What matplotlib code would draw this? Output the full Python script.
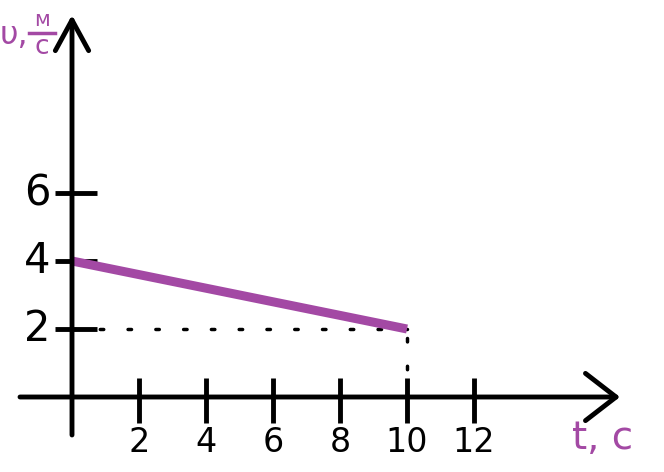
import matplotlib
matplotlib.use("Agg")
import matplotlib.pyplot as plt
from matplotlib.lines import Line2D

# data
t_line = [0, 10]
v_line = [4, 2]
x_ticks = [2, 4, 6, 8, 10, 12]
y_ticks = [2, 4, 6]

purple = "#A349A4"

# pixel-ish layout: origin at (72, 397), ~33.5 px per unit in x, 34 in y
W, H = 664, 472
ox, oy = 72, 397
sx, sy = 33.5, 34.0

fig = plt.figure(figsize=(W / 100, H / 100), dpi=100)
ax = fig.add_axes([0, 0, 1, 1])
ax.set_xlim(-ox / sx, (W - ox) / sx)
ax.set_ylim(-(H - oy) / sy, oy / sy)

for s in ax.spines.values():
    s.set_visible(False)

# axes with open arrowheads
ax.annotate("", xy=((620 - ox) / sx, 0), xytext=((20 - ox) / sx, 0),
            arrowprops=dict(arrowstyle="->,head_length=2.2,head_width=1.7",
                            lw=3.5, color="black", shrinkA=0, shrinkB=0))
ax.annotate("", xy=(0, (oy - 15) / sy), xytext=(0, (oy - 435) / sy),
            arrowprops=dict(arrowstyle="->,head_length=2.2,head_width=1.2",
                            lw=3.5, color="black", shrinkA=0, shrinkB=0))

# tick marks
ax.vlines(x_ticks, -0.75, 0.56, color="black", lw=3.5)
ax.hlines(y_ticks, -0.5, 0.75, color="black", lw=3.5)
for x in x_ticks:
    ax.text(x, -0.85, str(x), ha="center", va="top", fontsize=24)
for y in y_ticks:
    ax.text(-0.65, y, str(y), ha="right", va="center", fontsize=30)

# dotted helpers
ax.plot([0, t_line[1]], [v_line[1], v_line[1]], color="black", lw=2.5,
        linestyle=(0, (1, 7)), dash_capstyle="round")
ax.plot([t_line[1], t_line[1]], [0, v_line[1]], color="black", lw=2.5,
        linestyle=(0, (1, 7)), dash_capstyle="round")

# the speed line
ax.plot(t_line, v_line, color=purple, lw=6.5, solid_capstyle="butt")

# axis labels
ax.text(603 / W, 1 - 438 / H, "t, с", transform=ax.transAxes, color=purple,
        fontsize=28, ha="center", va="center")

# y label "υ, м/с" written as a small stacked fraction
ax.text(14 / W, 1 - 36 / H, "υ,", transform=ax.transAxes, color=purple,
        fontsize=23, ha="center", va="center")
ax.text(42 / W, 1 - 20 / H, "м", transform=ax.transAxes, color=purple,
        fontsize=15, ha="center", va="center")
ax.text(42 / W, 1 - 47 / H, "с", transform=ax.transAxes, color=purple,
        fontsize=19, ha="center", va="center")
fig.add_artist(Line2D([29 / W, 55 / W], [1 - 33 / H, 1 - 33 / H],
                      transform=fig.transFigure, color=purple, lw=2.5))

ax.set_xticks([])
ax.set_yticks([])

fig.savefig("out.png", dpi=100)
